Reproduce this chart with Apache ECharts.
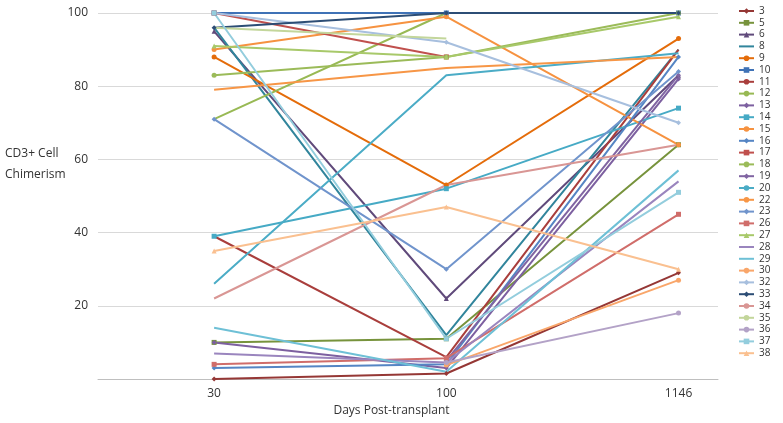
<!DOCTYPE html>
<html>
<head>
<meta charset="utf-8">
<script src="https://cdn.jsdelivr.net/npm/echarts@6/dist/echarts.min.js"></script>
<style>
  html, body { margin: 0; padding: 0; background: #fff; }
  #chart { width: 783px; height: 423px; }
</style>
</head>
<body>
<div id="chart"></div>
<script>
// x categories (days post-transplant)
var days = ['30', '100', '1146'];
// patient ids, legend order
var patients = ['3','5','6','8','9','10','11','12','13','14','15','16','17','18','19','20',
                '22','23','26','27','28','29','30','32','33','34','35','36','37','38'];
// chimerism % at day 30 / 100 / 1146 (null = not measured)
var chimerism = [
  [0, 1.5, 29],     // 3
  [10, 11, 64],     // 5
  [95, 22, 83],     // 6
  [96, 12, 90],     // 8
  [88, 53, 93],     // 9
  [100, 100, 100],  // 10
  [39, 6, 90],      // 11
  [71, 100, 100],   // 12
  [10, 3, 82],      // 13
  [39, 52, 74],     // 14
  [90, 99, 64],     // 15
  [3, 4, 88],       // 16
  [100, 88, null],  // 17
  [83, 88, 100],    // 18
  [null, 5, 83],    // 19
  [26, 83, 89],     // 20
  [79, 85, 88],     // 22
  [71, 30, 84],     // 23
  [4, 5.7, 45],     // 26
  [91, 88, 99],     // 27
  [7, 4.5, 54],     // 28
  [14, 2, 57],      // 29
  [null, 3.8, 27],  // 30
  [100, 92, 70],    // 32
  [96, 100, 100],   // 33
  [22, 53, 64],     // 34
  [96, 93, null],   // 35
  [null, 4.5, 18],  // 36
  [100, 11, 51],    // 37
  [35, 47, 30]      // 38
];

var colors = ['#953735','#77933C','#604A7B','#31859C','#E46C0A','#3F72B6','#A93E3C','#98B954',
              '#7D60A0','#46AAC5','#F69240','#5585C4','#C0504D','#9BBB59','#8064A2','#4BACC6',
              '#F79646','#7094CC','#D06D6A','#A8C96A','#9A85BE','#6EC0D6','#F9A66A','#A7BFDE',
              '#2C4D75','#D99694','#C3D69B','#B3A2C7','#93CDDD','#FAC090'];
var xMark = 'path://M0,0L10,10M10,0L0,10';
var symbols = ['diamond','rect','triangle',xMark,'circle','rect','none','none','diamond','rect',
               'circle','diamond','rect','circle','diamond','none','none','diamond','rect','triangle',
               xMark,xMark,'circle','diamond','diamond','none','none','circle','rect','triangle'];

var chart = echarts.init(document.getElementById('chart'));

var series = patients.map(function (p, i) {
  return {
    name: p,
    type: 'line',
    data: chimerism[i].map(function (v, j) { return [j, v]; }),
    color: colors[i],
    symbol: symbols[i],
    symbolSize: 5,
    showSymbol: symbols[i] !== 'none',
    lineStyle: { width: 2 },
    itemStyle: { color: colors[i], borderWidth: 0 },
    emphasis: { disabled: true },
    z: 2
  };
});

var option = {
  animation: false,
  grid: { left: 98, right: 65, top: 13, bottom: 44 },
  xAxis: {
    type: 'value',
    min: -0.5,
    max: 2.17,
    interval: 0.5,
    axisLine: { show: true, lineStyle: { color: '#BFBFBF', width: 1 } },
    axisTick: { show: false },
    splitLine: { show: false },
    axisLabel: {
      color: '#333333', fontSize: 12, fontFamily: 'Open Sans', margin: 9,
      showMinLabel: true, showMaxLabel: true,
      formatter: function (v) {
        return Math.abs(v - Math.round(v)) < 1e-6 && v >= 0 && v < days.length ? days[Math.round(v)] : '';
      }
    }
  },
  yAxis: {
    type: 'value',
    min: 0,
    max: 100,
    interval: 20,
    axisLine: { show: false },
    axisTick: { show: false },
    splitLine: { lineStyle: { color: '#D9D9D9', width: 1 } },
    axisLabel: { color: '#333333', fontSize: 12, fontFamily: 'Open Sans', margin: 10, showMinLabel: false }
  },
  legend: {
    orient: 'vertical',
    left: 733,
    top: 1,
    itemWidth: 15,
    itemHeight: 7,
    itemGap: 1.8,
    textStyle: { fontSize: 10, color: '#333333', fontFamily: 'Open Sans' },
    data: patients
  },
  graphic: [
    { type: 'text', left: 5, top: 143,
      style: { text: 'CD3+ Cell\nChimerism', font: '12px "Open Sans"', fill: '#333333', lineHeight: 21 } },
    { type: 'text', left: 'center', top: 405,
      style: { text: 'Days Post-transplant', font: '12px "Open Sans"', fill: '#333333' },
      x: 38 }
  ],
  series: series
};
chart.setOption(option);
</script>
</body>
</html>
